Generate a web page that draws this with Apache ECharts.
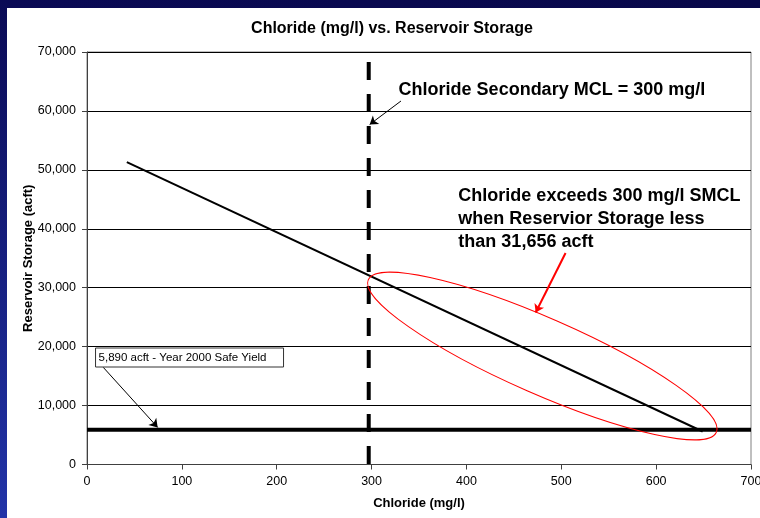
<!DOCTYPE html>
<html><head><meta charset="utf-8">
<script src="https://cdn.jsdelivr.net/npm/echarts@6/dist/echarts.min.js"></script>
<style>html,body{margin:0;padding:0;background:#fff}#c{width:760px;height:518px}</style>
</head><body><div id="c"></div>
<script>
// ---- data ----
const chartTitle = 'Chloride (mg/l) vs. Reservoir Storage';
const xAxisName = 'Chloride (mg/l)';
const yAxisName = 'Reservoir Storage (acft)';
const xTicks = [0, 100, 200, 300, 400, 500, 600, 700];
const yTicks = [0, 10000, 20000, 30000, 40000, 50000, 60000, 70000];
const relationChloride = [42, 649];
const relationStorage = [51300, 5600];
const safeYieldChloride = [0, 700];
const safeYieldStorage = [5890, 5890];
const mclChloride = [297, 297];
const mclStorage = [68300, 0];
const mclText = 'Chloride Secondary MCL = 300 mg/l';
const smclText = ['Chloride exceeds 300 mg/l SMCL', 'when Reservior Storage less', 'than 31,656 acft'];
const safeYieldText = '5,890 acft - Year 2000 Safe Yield';

const pairs = (xs, ys) => xs.map((x, i) => [x, ys[i]]);
const FONT = "'Liberation Sans', Arial, Helvetica, sans-serif";

const chart = echarts.init(document.getElementById('c'), null, {renderer: 'canvas'});
const fmt = v => Number(v).toLocaleString('en-US');

chart.setOption({
  animation: false,
  backgroundColor: '#ffffff',
  textStyle: {fontFamily: FONT},
  title: {
    text: chartTitle, left: 392, top: 21, padding: 0, textAlign: 'center',
    textStyle: {fontFamily: FONT, fontSize: 16, fontWeight: 'bold', color: '#000'}
  },
  grid: {left: 87, right: 9, top: 52, bottom: 53.5, containLabel: false, outerBoundsMode: 'none',
         show: true, borderColor: '#808080', borderWidth: 1, backgroundColor: '#fff'},
  xAxis: {
    type: 'value', min: xTicks[0], max: xTicks[xTicks.length - 1], interval: xTicks[1] - xTicks[0],
    name: xAxisName, nameLocation: 'middle', nameGap: 32, nameMoveOverlap: false,
    nameTextStyle: {fontFamily: FONT, fontSize: 13, fontWeight: 'bold', color: '#000'},
    axisLine: {lineStyle: {color: '#404040', width: 1}},
    axisTick: {show: true, length: 5, lineStyle: {color: '#404040'}},
    axisLabel: {fontFamily: FONT, fontSize: 12.5, color: '#000', margin: 11, hideOverlap: false},
    splitLine: {show: false}
  },
  yAxis: {
    type: 'value', min: yTicks[0], max: yTicks[yTicks.length - 1], interval: yTicks[1] - yTicks[0],
    name: yAxisName, nameLocation: 'middle', nameGap: 52, nameRotate: 90, nameMoveOverlap: false,
    nameTextStyle: {fontFamily: FONT, fontSize: 13, fontWeight: 'bold', color: '#000'},
    axisLine: {show: true, lineStyle: {color: '#404040', width: 1}},
    axisTick: {show: true, length: 5, lineStyle: {color: '#404040'}},
    axisLabel: {fontFamily: FONT, fontSize: 12.5, color: '#000', margin: 11, formatter: fmt},
    splitLine: {show: true, lineStyle: {color: '#000', width: 1}}
  },
  series: [
    {
      type: 'line', name: 'Relation', data: pairs(relationChloride, relationStorage),
      symbol: 'none', lineStyle: {color: '#000', width: 2}, z: 4
    },
    {
      type: 'line', name: 'Safe Yield', data: pairs(safeYieldChloride, safeYieldStorage),
      symbol: 'none', lineStyle: {color: '#000', width: 4}, z: 3,
      markLine: {
        silent: true, animation: false,
        symbol: ['none', 'arrow'], symbolSize: 8,
        label: {show: false},
        data: [
          [{coord: [331, 61684], lineStyle: {color: '#000', width: 1, type: 'solid'}}, {coord: [298, 57700]}],
          [{coord: [504.5, 35889], lineStyle: {color: '#ff0000', width: 2, type: 'solid'}}, {coord: [473, 25800]}],
          [{coord: [17.1, 16494], lineStyle: {color: '#000', width: 1, type: 'solid'}}, {coord: [74.5, 6300]}]
        ]
      }
    },
    {
      type: 'line', name: 'MCL', data: pairs(mclChloride, mclStorage),
      symbol: 'none', lineStyle: {color: '#000', width: 4, type: [18, 14]}, z: 5
    }
  ]
});

function px(x, y) { return chart.convertToPixel({gridIndex: 0}, [x, y]); }

const ellC = px(480, 18412);
const mclP = px(328.5, 63550);
const smclP = px(391.5, 47550);
const boxP = px(9.0, 19769);

chart.setOption({
  graphic: [
    {type: 'rect', left: 0, top: 0, shape: {width: 760, height: 8}, z: 100,
     style: {fill: new echarts.graphic.LinearGradient(0, 0, 1, 0, [{offset: 0, color: '#0a0a55'}, {offset: 1, color: '#08084a'}])}},
    {type: 'rect', left: 0, top: 0, shape: {width: 7, height: 518}, z: 100,
     style: {fill: new echarts.graphic.LinearGradient(0, 0, 0, 1, [{offset: 0, color: '#0a0a55'}, {offset: 1, color: '#2234a8'}])}},
    {type: 'ellipse', x: ellC[0], y: ellC[1], rotation: -0.413, z: 50,
     shape: {cx: 0, cy: 0, rx: 190, ry: 38},
     style: {fill: 'none', stroke: '#ff0000', lineWidth: 1}},
    {type: 'text', x: mclP[0], y: mclP[1], z: 50,
     style: {text: mclText, font: "bold 18px " + FONT, fill: '#000', textAlign: 'left', textVerticalAlign: 'middle'}},
    {type: 'text', x: smclP[0], y: smclP[1], z: 50,
     style: {text: smclText.join('\n'), font: "bold 18px " + FONT, fill: '#000', lineHeight: 23, textAlign: 'left', textVerticalAlign: 'top'}},
    {type: 'rect', x: boxP[0], y: boxP[1], z: 50,
     shape: {width: 188, height: 19},
     style: {fill: '#fff', stroke: '#333', lineWidth: 1}},
    {type: 'text', x: boxP[0] + 3, y: boxP[1] + 9.5, z: 51,
     style: {text: safeYieldText, font: "11.5px " + FONT, fill: '#000', textAlign: 'left', textVerticalAlign: 'middle'}}
  ]
});
</script>
</body></html>
